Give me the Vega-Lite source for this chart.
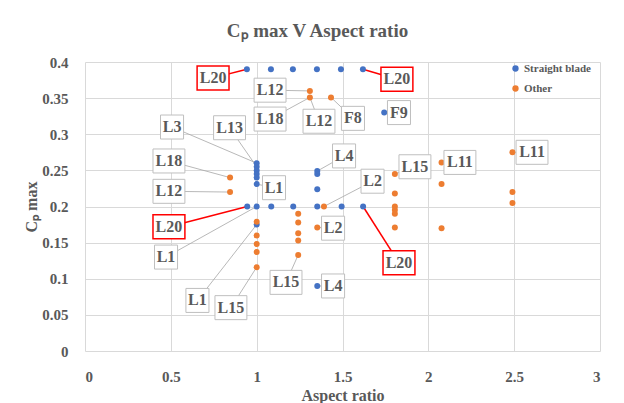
{
  "$schema": "https://vega.github.io/schema/vega-lite/v6.json",
  "autosize": "none",
  "width": 515,
  "height": 289,
  "padding": {"left": 85, "top": 62, "right": 24, "bottom": 52},
  "background": "white",
  "title": {
    "text": "Cₚ max V Aspect ratio",
    "font": "Liberation Serif",
    "fontSize": 19,
    "fontWeight": "bold",
    "color": "#595959",
    "anchor": "middle",
    "frame": "group",
    "dx": -25,
    "offset": 14
  },
  "datasets": {
    "points": [
      {"ar": 0.943, "cp": 0.39, "type": "Straight blade"},
      {"ar": 1.083, "cp": 0.39, "type": "Straight blade"},
      {"ar": 1.211, "cp": 0.39, "type": "Straight blade"},
      {"ar": 1.351, "cp": 0.39, "type": "Straight blade"},
      {"ar": 1.491, "cp": 0.39, "type": "Straight blade"},
      {"ar": 1.619, "cp": 0.39, "type": "Straight blade"},
      {"ar": 1.743, "cp": 0.33, "type": "Straight blade"},
      {"ar": 1.0, "cp": 0.26, "type": "Straight blade"},
      {"ar": 1.0, "cp": 0.255, "type": "Straight blade"},
      {"ar": 1.0, "cp": 0.25, "type": "Straight blade"},
      {"ar": 1.0, "cp": 0.245, "type": "Straight blade"},
      {"ar": 1.0, "cp": 0.24, "type": "Straight blade"},
      {"ar": 1.0, "cp": 0.231, "type": "Straight blade"},
      {"ar": 0.945, "cp": 0.2, "type": "Straight blade"},
      {"ar": 1.0, "cp": 0.2, "type": "Straight blade"},
      {"ar": 1.085, "cp": 0.2, "type": "Straight blade"},
      {"ar": 1.213, "cp": 0.2, "type": "Straight blade"},
      {"ar": 1.353, "cp": 0.2, "type": "Straight blade"},
      {"ar": 1.495, "cp": 0.2, "type": "Straight blade"},
      {"ar": 1.62, "cp": 0.2, "type": "Straight blade"},
      {"ar": 1.0, "cp": 0.175, "type": "Straight blade"},
      {"ar": 1.353, "cp": 0.249, "type": "Straight blade"},
      {"ar": 1.353, "cp": 0.245, "type": "Straight blade"},
      {"ar": 1.353, "cp": 0.224, "type": "Straight blade"},
      {"ar": 1.353, "cp": 0.09, "type": "Straight blade"},
      {"ar": 1.31, "cp": 0.36, "type": "Other"},
      {"ar": 1.31, "cp": 0.351, "type": "Other"},
      {"ar": 1.433, "cp": 0.351, "type": "Other"},
      {"ar": 0.845, "cp": 0.24, "type": "Other"},
      {"ar": 0.845, "cp": 0.22, "type": "Other"},
      {"ar": 1.0, "cp": 0.179, "type": "Other"},
      {"ar": 1.0, "cp": 0.16, "type": "Other"},
      {"ar": 1.0, "cp": 0.148, "type": "Other"},
      {"ar": 1.0, "cp": 0.137, "type": "Other"},
      {"ar": 1.0, "cp": 0.116, "type": "Other"},
      {"ar": 1.242, "cp": 0.19, "type": "Other"},
      {"ar": 1.242, "cp": 0.178, "type": "Other"},
      {"ar": 1.242, "cp": 0.163, "type": "Other"},
      {"ar": 1.242, "cp": 0.153, "type": "Other"},
      {"ar": 1.242, "cp": 0.133, "type": "Other"},
      {"ar": 1.353, "cp": 0.171, "type": "Other"},
      {"ar": 1.392, "cp": 0.2, "type": "Other"},
      {"ar": 1.805, "cp": 0.245, "type": "Other"},
      {"ar": 1.805, "cp": 0.218, "type": "Other"},
      {"ar": 1.805, "cp": 0.2, "type": "Other"},
      {"ar": 1.805, "cp": 0.195, "type": "Other"},
      {"ar": 1.805, "cp": 0.19, "type": "Other"},
      {"ar": 1.805, "cp": 0.171, "type": "Other"},
      {"ar": 2.077, "cp": 0.261, "type": "Other"},
      {"ar": 2.077, "cp": 0.231, "type": "Other"},
      {"ar": 2.077, "cp": 0.17, "type": "Other"},
      {"ar": 2.49, "cp": 0.275, "type": "Other"},
      {"ar": 2.49, "cp": 0.22, "type": "Other"},
      {"ar": 2.49, "cp": 0.205, "type": "Other"}
    ],
    "labels": [
      {"label": "L20", "ar": 0.943, "cp": 0.39, "lx": 0.746, "ly": 0.378},
      {"label": "L20", "ar": 1.619, "cp": 0.39, "lx": 1.817, "ly": 0.376},
      {"label": "L12", "ar": 1.31, "cp": 0.36, "lx": 1.078, "ly": 0.361},
      {"label": "L18", "ar": 1.31, "cp": 0.351, "lx": 1.078, "ly": 0.321},
      {"label": "L12", "ar": 1.31, "cp": 0.351, "lx": 1.363, "ly": 0.318},
      {"label": "F8", "ar": 1.433, "cp": 0.351, "lx": 1.561, "ly": 0.322},
      {"label": "F9", "ar": 1.743, "cp": 0.33, "lx": 1.829, "ly": 0.33},
      {"label": "L3", "ar": 1.0, "cp": 0.26, "lx": 0.507, "ly": 0.31},
      {"label": "L13", "ar": 1.0, "cp": 0.255, "lx": 0.842, "ly": 0.309},
      {"label": "L18", "ar": 0.845, "cp": 0.24, "lx": 0.489, "ly": 0.263},
      {"label": "L12", "ar": 0.845, "cp": 0.22, "lx": 0.489, "ly": 0.221},
      {"label": "L1", "ar": 1.0, "cp": 0.231, "lx": 1.101, "ly": 0.226},
      {"label": "L20", "ar": 0.945, "cp": 0.2, "lx": 0.489, "ly": 0.172},
      {"label": "L1", "ar": 1.0, "cp": 0.2, "lx": 0.472, "ly": 0.13},
      {"label": "L1", "ar": 1.0, "cp": 0.175, "lx": 0.655, "ly": 0.07},
      {"label": "L15", "ar": 1.0, "cp": 0.116, "lx": 0.85, "ly": 0.06},
      {"label": "L15", "ar": 1.242, "cp": 0.133, "lx": 1.171, "ly": 0.095},
      {"label": "L2", "ar": 1.353, "cp": 0.171, "lx": 1.445, "ly": 0.17},
      {"label": "L4", "ar": 1.353, "cp": 0.09, "lx": 1.445, "ly": 0.09},
      {"label": "L2", "ar": 1.392, "cp": 0.2, "lx": 1.675, "ly": 0.235},
      {"label": "L4", "ar": 1.353, "cp": 0.249, "lx": 1.509, "ly": 0.27},
      {"label": "L15", "ar": 1.805, "cp": 0.245, "lx": 1.922, "ly": 0.255},
      {"label": "L11", "ar": 2.077, "cp": 0.261, "lx": 2.184, "ly": 0.261},
      {"label": "L11", "ar": 2.49, "cp": 0.275, "lx": 2.604, "ly": 0.275},
      {"label": "L20", "ar": 1.62, "cp": 0.2, "lx": 1.829, "ly": 0.122}
    ]
  },
  "layer": [
    {
      "data": {"name": "labels"},
      "mark": {"type": "rule"},
      "encoding": {
        "x": {
          "field": "ar",
          "type": "quantitative",
          "scale": {"domain": [0, 3], "nice": false, "zero": false},
          "axis": {"title": "Aspect ratio", "values": [0, 0.5, 1, 1.5, 2, 2.5, 3], "tickCount": 20, "format": "~g", "labelPadding": 18, "titlePadding": 3, "labelOverlap": false}
        },
        "y": {
          "field": "cp",
          "type": "quantitative",
          "scale": {"domain": [0, 0.4], "nice": false, "zero": false},
          "axis": {"title": "Cₚ max", "values": [0, 0.05, 0.1, 0.15, 0.2, 0.25, 0.3, 0.35, 0.4], "tickCount": 20, "format": "~g", "labelPadding": 17, "titlePadding": 2, "labelOverlap": false}
        },
        "x2": {"field": "lx"},
        "y2": {"field": "ly"},
        "color": {"condition": {"test": "datum.label == 'L20'", "value": "#ff0000"}, "value": "#a6a6a6"},
        "strokeWidth": {"condition": {"test": "datum.label == 'L20'", "value": 1.5}, "value": 0.8}
      }
    },
    {
      "data": {"name": "points"},
      "mark": {"type": "circle", "opacity": 1, "size": 36},
      "encoding": {
        "x": {"field": "ar", "type": "quantitative"},
        "y": {"field": "cp", "type": "quantitative"},
        "color": {
          "field": "type",
          "type": "nominal",
          "scale": {"domain": ["Straight blade", "Other"], "range": ["#4472C4", "#ED7D31"]},
          "legend": {
            "title": null,
            "orient": "none",
            "legendX": 425,
            "legendY": 1,
            "padding": 0,
            "symbolType": "circle",
            "symbolSize": 40,
            "labelFont": "Liberation Serif",
            "labelFontSize": 11,
            "labelFontWeight": "bold",
            "labelColor": "#595959",
            "rowPadding": 8,
            "labelOffset": 3
          }
        }
      }
    },
    {
      "data": {"name": "labels"},
      "mark": {"type": "point", "filled": false, "fill": "white", "fillOpacity": 1, "opacity": 1, "size": 576},
      "encoding": {
        "x": {"field": "lx", "type": "quantitative"},
        "y": {"field": "ly", "type": "quantitative"},
        "shape": {"condition": {"test": "length(datum.label) == 2", "value": "M-0.96,-1H0.96V1H-0.96Z"}, "value": "M-1.33,-1H1.33V1H-1.33Z"},
        "stroke": {"condition": {"test": "datum.label == 'L20'", "value": "#ff0000"}, "value": "#bfbfbf"},
        "strokeWidth": {"condition": {"test": "datum.label == 'L20'", "value": 1.5}, "value": 1}
      }
    },
    {
      "data": {"name": "labels"},
      "mark": {"type": "text", "font": "Liberation Serif", "fontSize": 16, "fontWeight": "bold", "color": "#595959", "align": "center", "baseline": "middle"},
      "encoding": {
        "x": {"field": "lx", "type": "quantitative"},
        "y": {"field": "ly", "type": "quantitative"},
        "text": {"field": "label"}
      }
    }
  ],
  "config": {
    "view": {"stroke": null},
    "axis": {
      "ticks": false,
      "domain": false,
      "grid": true,
      "gridColor": "#d9d9d9",
      "gridWidth": 1,
      "labelFont": "Liberation Serif",
      "labelFontSize": 15,
      "labelFontWeight": "bold",
      "labelColor": "#595959",
      "titleFont": "Liberation Serif",
      "titleFontSize": 16,
      "titleFontWeight": "bold",
      "titleColor": "#595959"
    }
  }
}
